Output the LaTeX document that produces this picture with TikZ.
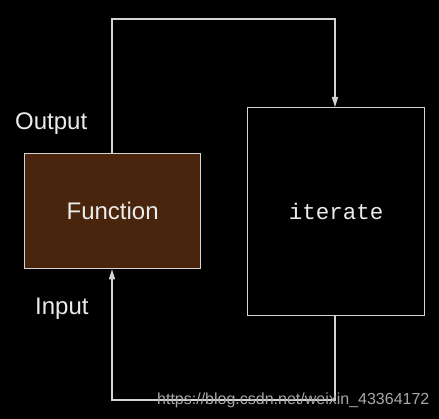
\documentclass[tikz,border=0pt]{standalone}
\usepackage{fontspec}
\setmainfont{Liberation Sans}
\newfontfamily\monofont{Liberation Mono}
\usetikzlibrary{arrows.meta}
\definecolor{linegray}{HTML}{D4D4D4}
\definecolor{funcbrown}{HTML}{48250C}
\definecolor{wmgray}{HTML}{A8A8A8}
\begin{document}
\begin{tikzpicture}[x=1pt,y=-1pt,
  box/.style={draw=linegray,line width=1.3pt,inner sep=0pt,anchor=north west},
  conn/.style={draw=linegray,line width=1.3pt},
  tip/.style={-{Triangle[length=10pt,width=6pt]}},
  lbl/.style={text=white!92!black,font=\fontsize{24}{28}\selectfont,inner sep=0pt}]
\fill[black] (0,0) rectangle (439,419);
\useasboundingbox (0,0) rectangle (439,419);
\node[box,fill=funcbrown,minimum width=176pt,minimum height=115pt] (func) at (24,153) {};
\node[lbl] at (func.center) {Function};
\node[box,minimum width=177pt,minimum height=208pt] (iter) at (247,107) {};
\node[text=white!92!black,font=\monofont\fontsize{22.5}{24}\selectfont] at (iter.center) {iterate};
\coordinate (t1) at (112,19);
\coordinate (t2) at (335,19);
\coordinate (b1) at (112,400);
\coordinate (b2) at (335,400);
\draw[conn,tip] (func.north -| t1) -- (t1) -- (t2) -- (iter.north -| t2);
\draw[conn,tip] (iter.south -| b2) -- (b2) -- (b1) -- (func.south -| b1);
\node[lbl,anchor=base west] (out) at (15,130) {Output};
\node[lbl,anchor=base west] (inp) at (35,315) {Input};
\node[text=wmgray,font=\fontsize{16}{18}\selectfont,anchor=base west,inner sep=0pt] (wm) at (157,405) {https://blog.csdn.net/weixin\_43364172};
\end{tikzpicture}
\end{document}
